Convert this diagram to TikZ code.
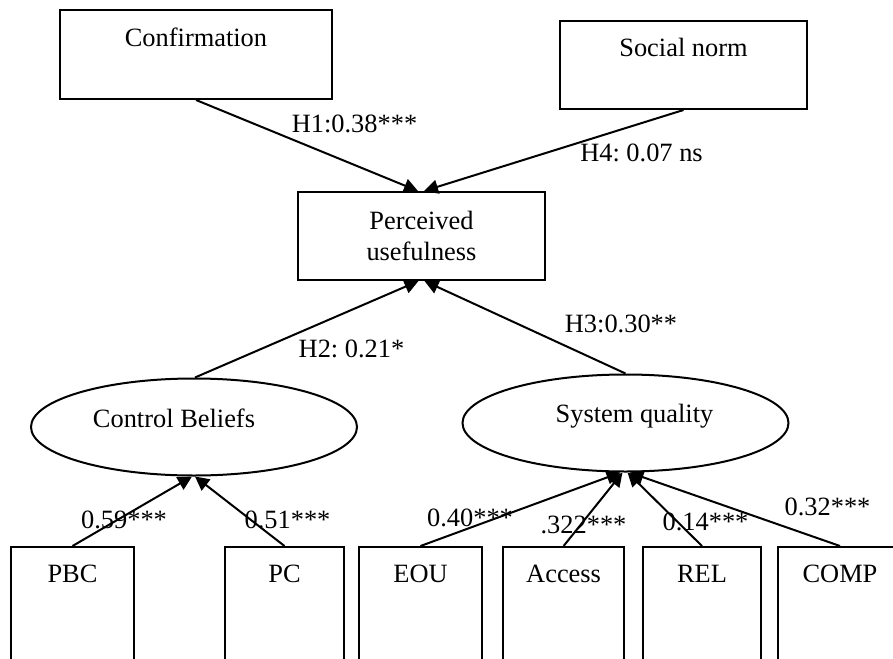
\documentclass[tikz,border=0pt]{standalone}
\usepackage{fontspec}
\setmainfont{Liberation Serif}
\frenchspacing
\usetikzlibrary{
	arrows.meta,
	shapes.geometric
}

\begin{document}
\begin{tikzpicture}[x=0.5pt, y=-0.5pt, line width=1pt,
	every node/.style={font=\fontsize{13.2pt}{15.5pt}\selectfont},
	construct/.style={draw, rectangle, inner sep=0pt, anchor=north},
	latent/.style={draw, ellipse, inner sep=0pt, minimum width=163pt, minimum height=48.5pt},
	effect/.style={-{Triangle[length=7pt, width=7pt]}},
	coef/.style={anchor=base, inner sep=0pt}]

		\useasboundingbox (0,0) rectangle (893,658);
		\clip (0,0) rectangle (893,658);

		\node[construct, minimum width=136pt, text height=18.35pt, text depth=26.15pt] (conf) at (196,9) {Confirmation};
		\node[construct, minimum width=123.5pt, text height=18pt, text depth=26pt] (sn) at (683.5,20) {Social norm};
		\node[draw, inner sep=0pt, minimum width=123.5pt, minimum height=44pt, align=center] (pu) at (421.5,236) {Perceived\\usefulness};

		\node[latent] (cb) at (194,427) {};
		\node[coef] (cbtext) at (174,427) {Control Beliefs};
		\node[latent] (sq) at (625.5,423) {};
		\node[coef] (sqtext) at (634.5,422) {System quality};

		\foreach \n/\x/\w/\t in {pbc/72.5/61.5/PBC, pc/284.5/59.5/PC, eou/420.5/61.8/EOU, acc/563.6/60.6/Access, rel/702/58.9/REL, comp/840/62.5/COMP} {
		\node[construct, minimum width=\w pt, text height=17.5pt, text depth=60pt] (\n) at (\x,546) {\t};
		}

		\draw[effect] (conf.south) -- ([xshift=-1.75pt]pu.north);
		\draw[effect] (sn.south) -- ([xshift=1.25pt]pu.north);
		\draw[effect] ([xshift=0.5pt]cb.north) -- ([xshift=-1.5pt]pu.south);
		\draw[effect] (sq.north) -- ([xshift=1.5pt]pu.south);

		\draw[effect] (pbc.north) -- ([xshift=-1pt]cb.south);
		\draw[effect] (pc.north) -- ([xshift=0.5pt]cb.south);
		\draw[effect] (eou.north) -- ([xshift=-2.5pt]sq.south);
		\draw[effect] (acc.north) -- ([xshift=-1.5pt]sq.south);
		\draw[effect] (rel.north) -- ([xshift=1pt]sq.south);
		\draw[effect] (comp.north) -- ([xshift=2pt]sq.south);

		\node[coef] (h1) at (354.5,133) {H1:0.38***};
		\node[coef] (h4) at (641.5,162) {H4: 0.07 ns};
		\node[coef] (h2) at (351.5,357) {H2: 0.21*};
		\node[coef] (h3) at (621,332) {H3:0.30**};

		\node[coef] (w1) at (124,528) {0.59***};
		\node[coef] (w2) at (287.5,528) {0.51***};
		\node[coef] (w3) at (470,526) {0.40***};
		\node[coef] (w4) at (583.5,533) {.322***};
		\node[coef] (w5) at (705.5,530) {0.14***};
		\node[coef] (w6) at (827.5,515) {0.32***};

	\end{tikzpicture}
\end{document}
